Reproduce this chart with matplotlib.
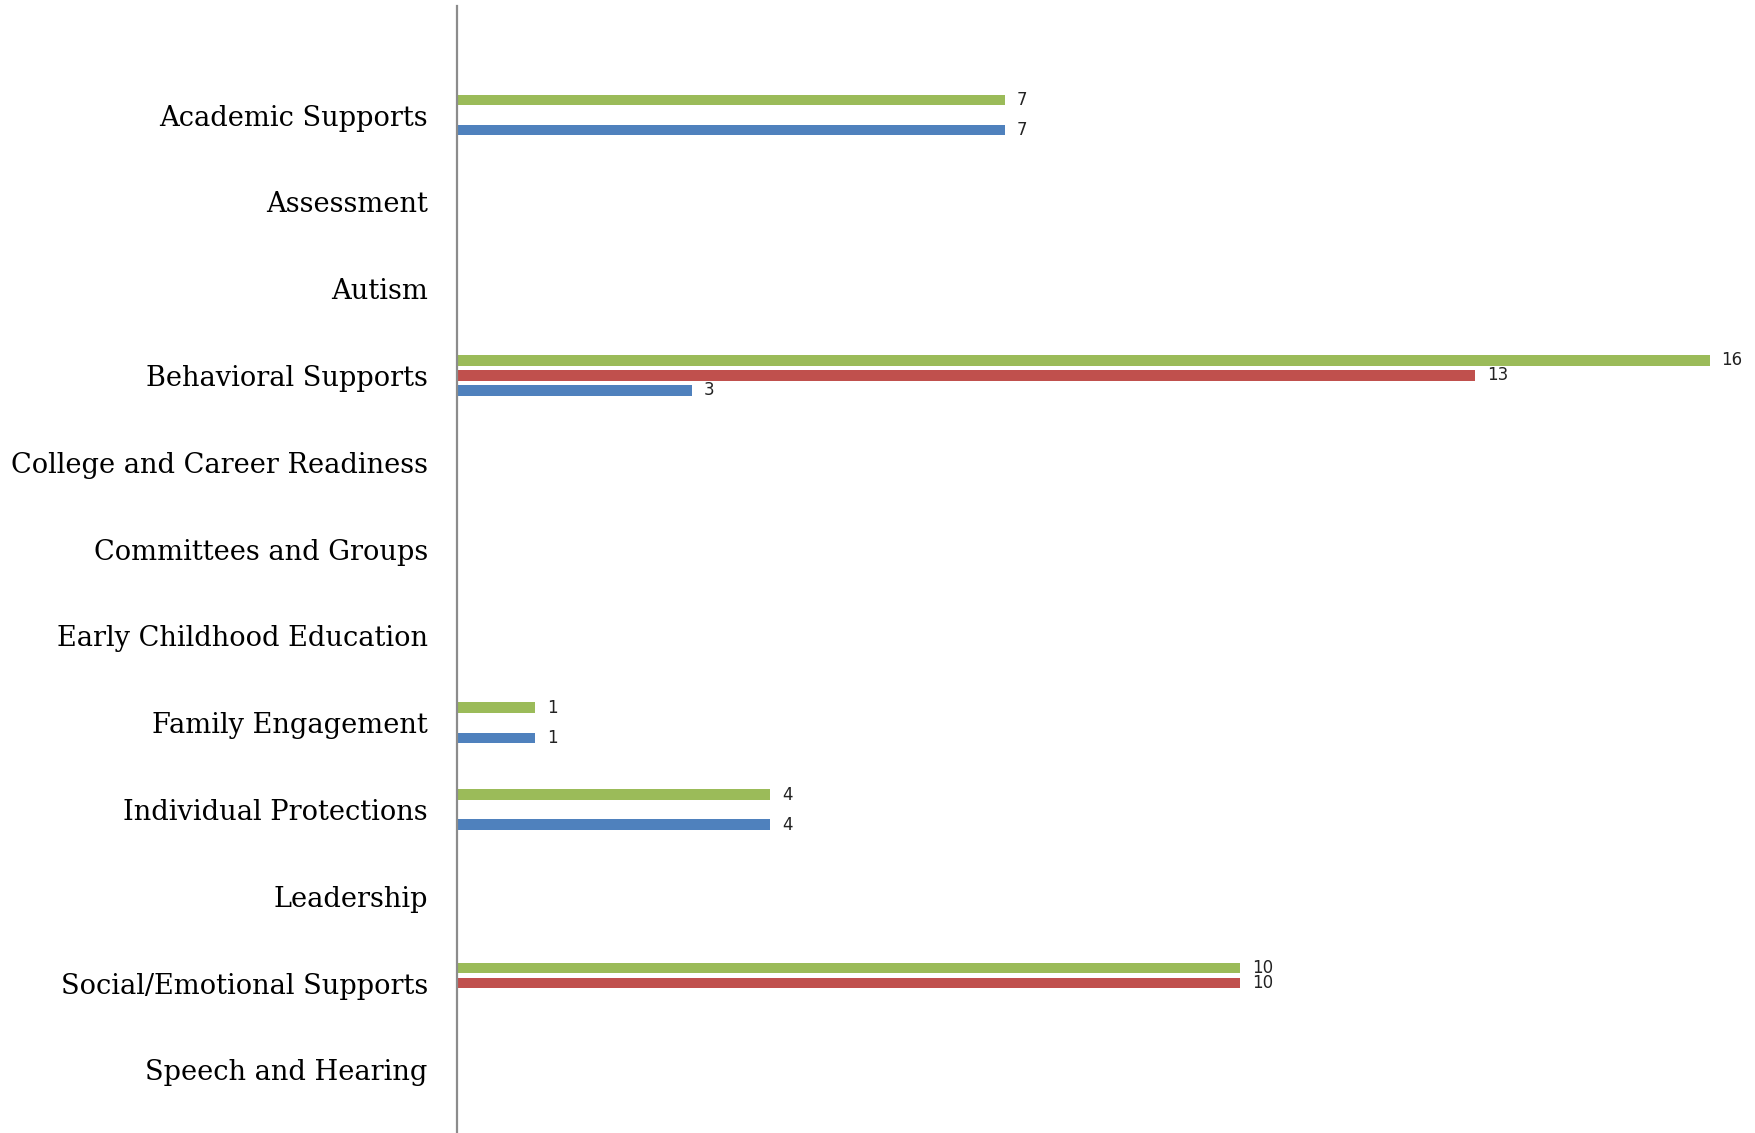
import numpy as np
import matplotlib.pyplot as plt

categories = ['Academic Supports', 'Assessment', 'Autism', 'Behavioral Supports',
              'College and Career Readiness', 'Committees and Groups',
              'Early Childhood Education', 'Family Engagement',
              'Individual Protections', 'Leadership',
              'Social/Emotional Supports', 'Speech and Hearing']
# blank cells kept as None
green_vals = [7, None, None, 16, None, None, None, 1, 4, None, 10, None]
red_vals = [None, None, None, 13, None, None, None, None, None, None, 10, None]
blue_vals = [7, None, None, 3, None, None, None, 1, 4, None, None, None]

series = [(green_vals, '#9BBB59', -1), (red_vals, '#C0504D', 0), (blue_vals, '#4F81BD', 1)]

W, H = 1756, 1133
fig = plt.figure(figsize=(W / 100, H / 100), dpi=100)
ax = fig.add_axes([457 / W, 0, 1 - 457 / W, 1 - 6 / H])

y = np.arange(len(categories))
slot = 0.173
bar_h = 0.12

for vals, color, k in series:
    for i, v in enumerate(vals):
        if v is None:
            continue
        ax.barh(y[i] + k * slot, v, height=bar_h, color=color)
        ax.text(v + 0.15, y[i] + k * slot, str(v), va='center', ha='left',
                fontsize=12, color='#222222',
                family=['Liberation Sans Narrow', 'DejaVu Sans'], clip_on=False)

ax.set_xlim(0, (W - 457) / 78.3)
ax.set_ylim(11 + (H - 1070) / 86.8, -(115 - 6) / 86.8)
ax.set_yticks(y)
ax.set_yticklabels(categories, family='DejaVu Serif', fontsize=19.6)
ax.tick_params(axis='y', length=0, pad=21)
ax.set_xticks([])
for s in ['top', 'right', 'bottom']:
    ax.spines[s].set_visible(False)
ax.spines['left'].set_color('#8C8C8C')
ax.spines['left'].set_linewidth(1.6)

fig.savefig('out.png', dpi=100)
